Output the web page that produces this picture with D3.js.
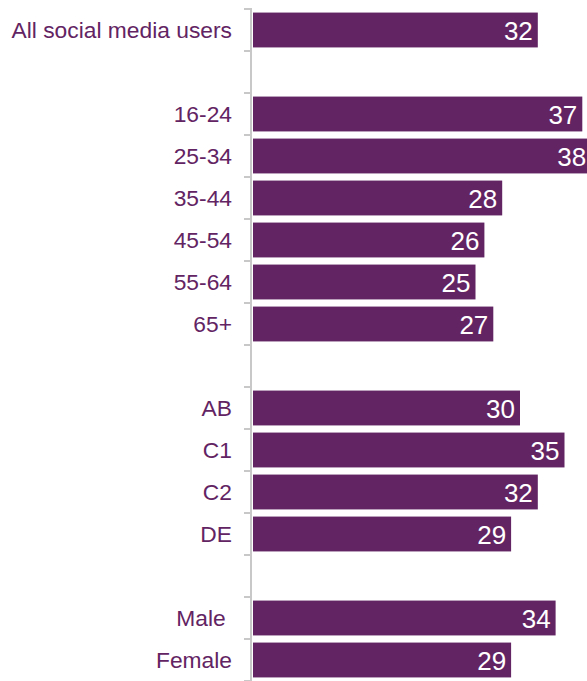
<!DOCTYPE html>
<html>
<head>
<meta charset="utf-8">
<script src="https://cdn.jsdelivr.net/npm/d3@7"></script>
<style>
  html, body { margin: 0; padding: 0; background: #fff; }
  svg { display: block; }
</style>
</head>
<body>
<svg id="chart" width="587" height="681"></svg>
<script>
// Slots (blank slots are spacers between groups)
const slots = ["All social media users", "gap1", "16-24", "25-34", "35-44", "45-54", "55-64", "65+",
               "gap2", "AB", "C1", "C2", "DE", "gap3", "Male", "Female"];
const labels = ["All social media users", "", "16-24", "25-34", "35-44", "45-54", "55-64", "65+",
                "", "AB", "C1", "C2", "DE", "", "Male\u00a0", "Female"];
const values = [32, null, 37, 38, 28, 26, 25, 27, null, 30, 35, 32, 29, null, 34, 29];

const purple = "#632463";
const svg = d3.select("#chart");

const y = d3.scaleBand().domain(slots).range([9, 681]).paddingInner(0.17).paddingOuter(0.085);
const x = d3.scaleLinear().domain([0, 40]).range([253, 253 + 40 * 8.9]);

const data = slots.map((s, i) => ({ slot: s, label: labels[i], value: values[i] }));
const bars = data.filter(d => d.value !== null);

// bars
svg.selectAll("rect.bar").data(bars).enter().append("rect")
  .attr("class", "bar")
  .attr("x", x(0))
  .attr("y", d => y(d.slot))
  .attr("width", d => x(d.value) - x(0))
  .attr("height", y.bandwidth())
  .attr("fill", purple);

// value labels
svg.selectAll("text.val").data(bars).enter().append("text")
  .attr("class", "val")
  .attr("x", d => x(d.value) - 5)
  .attr("y", d => y(d.slot) + y.bandwidth() / 2)
  .attr("dy", "0.37em")
  .attr("text-anchor", "end")
  .attr("font-family", "Liberation Sans, Arial, sans-serif")
  .attr("font-size", 26)
  .attr("fill", "#fff")
  .text(d => d.value);

// category labels
svg.selectAll("text.cat").data(data.filter(d => d.label)).enter().append("text")
  .attr("class", "cat")
  .attr("x", 232)
  .attr("y", d => y(d.slot) + y.bandwidth() / 2)
  .attr("dy", "0.37em")
  .attr("text-anchor", "end")
  .attr("font-family", "Liberation Sans, Arial, sans-serif")
  .attr("font-size", 22.8)
  .attr("fill", purple)
  .text(d => d.label);

// axis line and ticks at band boundaries
const axisColor = "#c8c8c8";
const half = (y.step() - y.bandwidth()) / 2;
const tickPos = slots.map(s => y(s) - half).concat([y(slots[slots.length - 1]) + y.bandwidth() + half]);
svg.append("line")
  .attr("x1", 251).attr("x2", 251)
  .attr("y1", y.range()[0]).attr("y2", y.range()[1])
  .attr("stroke", axisColor).attr("stroke-width", 2);
svg.selectAll("line.tick").data(tickPos).enter().append("line")
  .attr("class", "tick")
  .attr("x1", 244).attr("x2", 252)
  .attr("y1", d => d).attr("y2", d => d)
  .attr("stroke", axisColor).attr("stroke-width", 2);
</script>
</body>
</html>
